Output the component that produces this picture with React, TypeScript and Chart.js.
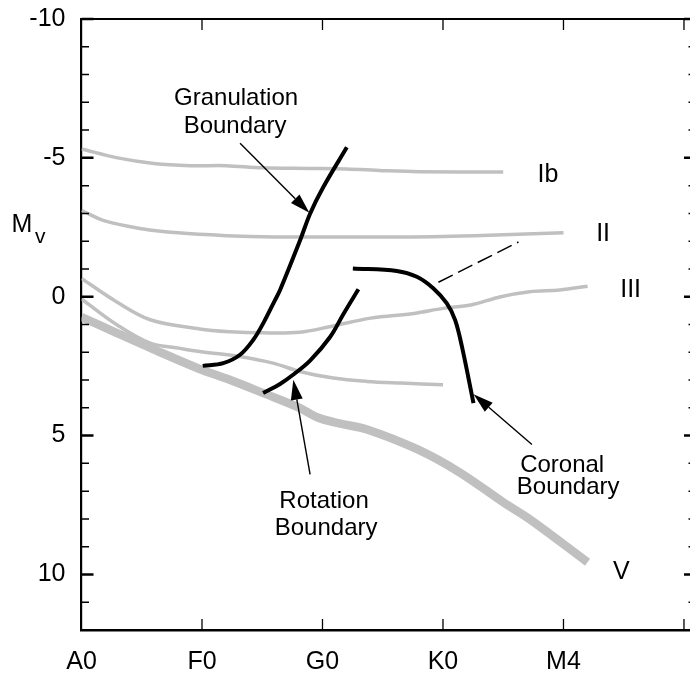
import React, { useEffect, useRef } from 'react';
import { Chart, registerables } from 'chart.js';

Chart.register(...registerables);

type P = [number, number];

// x: spectral type index (A0=0, F0=1, G0=2, K0=3, M4=4); y: absolute magnitude Mv
const spectralTypes = ['A0', 'F0', 'G0', 'K0', 'M4'];
const magnitudeTicks = [-10, -5, 0, 5, 10];

const classIb: P[] = [[0, -5.32], [0.3, -5.0], [0.6, -4.8], [0.9, -4.72], [1.2, -4.72], [1.5, -4.64], [1.9, -4.62], [2.2, -4.6], [2.5, -4.54], [2.8, -4.5], [3.5, -4.49]];
const classII: P[] = [[0, -3.11], [0.2, -2.72], [0.5, -2.45], [0.8, -2.3], [1.2, -2.2], [1.6, -2.15], [2.0, -2.15], [2.5, -2.15], [3.0, -2.17], [3.5, -2.23], [4.0, -2.3]];
const classIII: P[] = [[0, -0.66], [0.29, 0.18], [0.57, 0.83], [0.98, 1.16], [1.23, 1.26], [1.5, 1.3], [1.81, 1.28], [2.07, 1.07], [2.4, 0.77], [2.76, 0.6], [3.0, 0.42], [3.23, 0.3], [3.48, 0.0], [3.72, -0.18], [3.97, -0.24], [4.2, -0.38]];
const classIV: P[] = [[0, 0.08], [0.29, 1.0], [0.57, 1.67], [0.82, 1.86], [0.98, 1.97], [1.31, 2.15], [1.59, 2.39], [1.81, 2.69], [2.09, 2.93], [2.37, 3.05], [2.65, 3.11], [3.0, 3.17]];
const classV: P[] = [[0, 0.73], [0.29, 1.3], [0.57, 1.84], [0.98, 2.6], [1.23, 2.99], [1.52, 3.49], [1.81, 4.0], [1.96, 4.35], [2.15, 4.57], [2.37, 4.78], [2.79, 5.5], [3.14, 6.33], [3.5, 7.4], [3.72, 8.01], [4.2, 9.56]];

const granulationBoundary: P[] = [[1.006, 2.49], [1.177, 2.39], [1.316, 2.09], [1.426, 1.55], [1.509, 0.95], [1.606, 0.12], [1.648, -0.24], [1.814, -2.03], [1.897, -2.99], [2.007, -3.95], [2.202, -5.38]];
const rotationBoundary: P[] = [[1.507, 3.47], [1.648, 3.14], [1.756, 2.81], [1.897, 2.3], [2.063, 1.45], [2.174, 0.62], [2.298, -0.27]];
const coronalBoundary: P[] = [[2.252, -1.02], [2.617, -0.93], [2.783, -0.72], [2.921, -0.3], [3.032, 0.24], [3.101, 0.84], [3.157, 1.79], [3.253, 3.83]];
const coronalExtension: P[] = [[2.962, -0.52], [3.626, -1.97]];

// arrows: [fromX, fromY, toX, toY]
const arrows: [number, number, number, number][] = [
  [1.316, -5.53, 1.891, -3.02],
  [1.897, 6.4, 1.758, 2.99],
  [3.738, 5.32, 3.254, 3.51],
];

// annotation text: [text, x, y(baseline)]
const annotationTexts: [string, number, number][] = [
  ['Granulation', 1.283, -6.92],
  ['Boundary', 1.274, -5.88],
  ['Rotation', 2.013, 7.6],
  ['Boundary', 2.03, 8.59],
  ['Coronal', 3.989, 6.3],
  ['Boundary', 4.039, 7.12],
];

// luminosity class labels: [text, leftX, y(baseline)]
const classLabels: [string, number, number][] = [
  ['Ib', 3.784, -4.13],
  ['II', 4.271, -2.01],
  ['III', 4.471, 0.0],
  ['V', 4.41, 10.17],
];

const toXY = (pts: P[]) => pts.map(([x, y]) => ({ x, y }));
const GRAY = '#c0c0c0';
const FONT = '"Liberation Sans", Arial, Helvetica, sans-serif';

function drawArrow(ctx: CanvasRenderingContext2D, x1: number, y1: number, x2: number, y2: number) {
  const headLen = 20;
  const headW = 12;
  const a = Math.atan2(y2 - y1, x2 - x1);
  const bx = x2 - headLen * Math.cos(a);
  const by = y2 - headLen * Math.sin(a);
  ctx.beginPath();
  ctx.moveTo(x1, y1);
  ctx.lineTo(bx, by);
  ctx.lineWidth = 1.4;
  ctx.stroke();
  ctx.beginPath();
  ctx.moveTo(x2, y2);
  ctx.lineTo(bx + (headW / 2) * Math.sin(a), by - (headW / 2) * Math.cos(a));
  ctx.lineTo(bx - (headW / 2) * Math.sin(a), by + (headW / 2) * Math.cos(a));
  ctx.closePath();
  ctx.fill();
}

const overlay = {
  id: 'overlay',
  afterDraw(chart: any) {
    const { ctx, chartArea } = chart;
    const xs = chart.scales.x;
    const ys = chart.scales.y;
    ctx.save();
    ctx.strokeStyle = '#000';
    ctx.fillStyle = '#000';

    // top frame line
    ctx.lineWidth = 2.2;
    ctx.beginPath();
    ctx.moveTo(chartArea.left - 1, chartArea.top);
    ctx.lineTo(chartArea.right + 2, chartArea.top);
    ctx.stroke();

    // y ticks (inward), left and right
    const rightAxis = xs.getPixelForValue(5.1);
    for (let v = -10; v <= 12; v++) {
      const py = ys.getPixelForValue(v);
      const major = v % 5 === 0;
      const len = major ? 12 : 7.5;
      ctx.lineWidth = major ? 2.5 : 1.5;
      ctx.beginPath();
      ctx.moveTo(chartArea.left, py);
      ctx.lineTo(chartArea.left + len, py);
      ctx.moveTo(rightAxis, py);
      ctx.lineTo(rightAxis - len, py);
      ctx.stroke();
    }
    // x ticks (inward), top and bottom
    ctx.lineWidth = 1.3;
    for (let i = 1; i <= 5; i++) {
      const px = xs.getPixelForValue(i);
      ctx.beginPath();
      ctx.moveTo(px, chartArea.top);
      ctx.lineTo(px, chartArea.top + 11);
      ctx.moveTo(px, chartArea.bottom);
      ctx.lineTo(px, chartArea.bottom - 11);
      ctx.stroke();
    }

    // arrows
    for (const [x1, y1, x2, y2] of arrows) {
      drawArrow(ctx, xs.getPixelForValue(x1), ys.getPixelForValue(y1), xs.getPixelForValue(x2), ys.getPixelForValue(y2));
    }

    // annotation texts
    ctx.font = `24px ${FONT}`;
    ctx.textAlign = 'center';
    ctx.textBaseline = 'alphabetic';
    for (const [t, x, y] of annotationTexts) {
      ctx.fillText(t, xs.getPixelForValue(x), ys.getPixelForValue(y));
    }
    // class labels
    ctx.font = `25px ${FONT}`;
    ctx.textAlign = 'left';
    for (const [t, x, y] of classLabels) {
      ctx.fillText(t, xs.getPixelForValue(x), ys.getPixelForValue(y));
    }

    // y axis title Mv
    ctx.font = `25px ${FONT}`;
    ctx.fillText('M', chartArea.left - 70, ys.getPixelForValue(-2.33));
    ctx.font = `21px ${FONT}`;
    ctx.fillText('v', chartArea.left - 46.5, ys.getPixelForValue(-1.94));

    ctx.restore();
  },
};

export default function App() {
  const ref = useRef<HTMLCanvasElement>(null);
  useEffect(() => {
    const grayLine = (label: string, pts: P[], w: number) => ({
      label,
      data: toXY(pts),
      borderColor: GRAY,
      borderWidth: w,
      pointRadius: 0,
      tension: 0.35,
      fill: false,
    });
    const blackLine = (label: string, pts: P[]) => ({
      label,
      data: toXY(pts),
      borderColor: '#000',
      borderWidth: 4,
      pointRadius: 0,
      tension: 0.35,
      fill: false,
    });
    const chart = new Chart(ref.current!, {
      type: 'line',
      data: {
        datasets: [
          { ...blackLine('Coronal extension', coronalExtension), borderWidth: 1.5, borderDash: [16, 6], tension: 0 },
          blackLine('Granulation Boundary', granulationBoundary),
          blackLine('Rotation Boundary', rotationBoundary),
          blackLine('Coronal Boundary', coronalBoundary),
          grayLine('Ib', classIb, 3.5),
          grayLine('II', classII, 3.5),
          grayLine('III', classIII, 3.5),
          grayLine('IV', classIV, 3.5),
          grayLine('V', classV, 8.5),
        ] as any,
      },
      plugins: [overlay],
      options: {
        responsive: false,
        devicePixelRatio: 1,
        animation: false,
        layout: { padding: { top: 19, right: 0, bottom: 0, left: 0 } },
        plugins: { legend: { display: false }, tooltip: { enabled: false } },
        scales: {
          x: {
            type: 'linear',
            min: 0,
            max: 5.05,
            position: 'bottom',
            afterBuildTicks: (s: any) => {
              s.ticks = spectralTypes.map((_, i) => ({ value: i }));
            },
            afterFit: (s: any) => {
              s.height = 45;
              s.paddingLeft = 0;
              s.paddingRight = 0;
            },
            ticks: {
              autoSkip: false,
              maxRotation: 0,
              padding: 17.5,
              color: '#000',
              font: { family: FONT, size: 25 },
              callback: (_v: any, i: number) => spectralTypes[i],
            },
            grid: { display: false, drawTicks: false },
            border: { display: true, color: '#000', width: 2.5 },
          },
          y: {
            type: 'linear',
            reverse: true,
            min: -10,
            max: 12,
            afterBuildTicks: (s: any) => {
              s.ticks = magnitudeTicks.map((v) => ({ value: v }));
            },
            afterFit: (s: any) => {
              s.width = 81.5;
              s.paddingTop = 0;
              s.paddingBottom = 0;
            },
            ticks: {
              padding: 16,
              color: '#000',
              font: { family: FONT, size: 25 },
              callback: (v: any) => String(v),
            },
            grid: { display: false, drawTicks: false },
            border: { display: true, color: '#000', width: 2.2 },
          },
        },
      } as any,
    });
    return () => chart.destroy();
  }, []);
  return (
    <div style={{ position: 'absolute', left: 0, top: 0, width: 690, height: 675, background: '#fff' }}>
      <canvas ref={ref} width={690} height={675} style={{ display: 'block', width: 690, height: 675 }} />
    </div>
  );
}
